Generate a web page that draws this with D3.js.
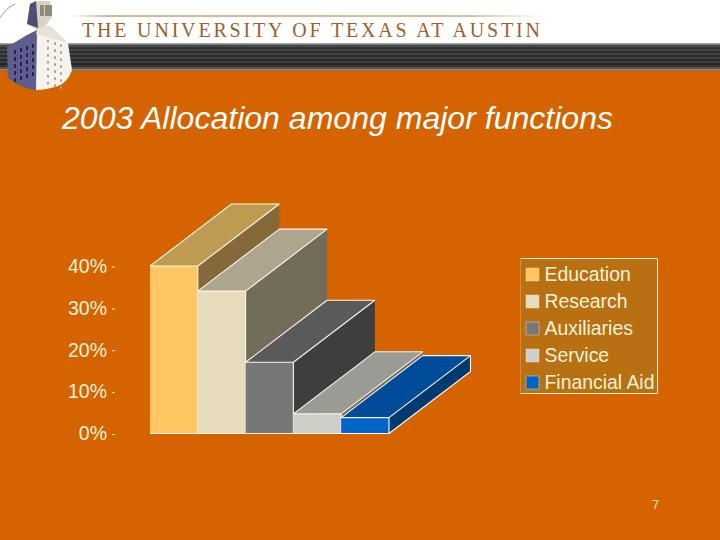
<!DOCTYPE html>
<html><head><meta charset="utf-8">
<script src="https://cdn.jsdelivr.net/npm/d3@7/dist/d3.min.js"></script>
<style>html,body{margin:0;padding:0;background:#d46300}svg{display:block}text{font-family:"Liberation Sans",Arial,sans-serif}</style>
</head><body><svg id="c" width="720" height="540"></svg>
<script>
const categories = ["Education","Research","Auxiliaries","Service","Financial Aid"];
const values = [40, 34, 17, 4.7, 3.8];
const frontColors = ["#ffc661","#e6dbbb","#777777","#cfcfca","#0064c8"];
const topColors = ["#bd9b50","#ada58e","#5a5a5a","#9b9b96","#004c9b"];
const sideColors = ["#85693a","#736c5a","#3e3e3e","#6a6a66","#003a70"];
const yTicks = [0,10,20,30,40];
const titleText = "2003 Allocation among major functions";
const headerText = "THE UNIVERSITY OF TEXAS AT AUSTIN";
const pageNumber = "7";

const svg = d3.select("#c");
const defs = svg.append("defs");
const lg = defs.append("linearGradient").attr("id","rule");
lg.append("stop").attr("offset","0").attr("stop-color","#fff");
lg.append("stop").attr("offset","0.08").attr("stop-color","#b5682a");
lg.append("stop").attr("offset","0.85").attr("stop-color","#c07a40");
lg.append("stop").attr("offset","1").attr("stop-color","#fff");

// page
svg.append("rect").attr("width",720).attr("height",540).attr("fill","#d46300");
svg.append("rect").attr("width",720).attr("height",43).attr("fill","#fff");
const stripes = [["#a8a8a8",43],["#777",44],["#4a4a4a",45],["#333",47],["#444",49],["#2e2e2e",51],["#444",53],["#2b2b2b",55],["#414141",57],["#2a2a2a",59],["#3e3e3e",61],["#262626",63],["#333",65],["#555",67],["#8a8a7e",69],["#a86a30",70]];
stripes.forEach((s,i)=>{const n=i+1<stripes.length?stripes[i+1][1]:71;
  svg.append("rect").attr("x",0).attr("y",s[1]).attr("width",720).attr("height",n-s[1]).attr("fill",s[0]);});
svg.append("rect").attr("x",70).attr("y",15.5).attr("width",470).attr("height",1).attr("fill","url(#rule)");
svg.append("text").attr("x",82).attr("y",37).attr("font-size",20).attr("fill","#a0602c")
  .style("font-family","'Liberation Serif',serif").attr("textLength",458).attr("lengthAdjust","spacing").text(headerText);

// tower emblem
svg.append("path").attr("d","M0,18 Q6,8 15,4").attr("fill","none").attr("stroke","#999").attr("stroke-width",1);
svg.append("path").attr("d","M36,30 L68,43 L72,70 Q68,82 58,86 Q46,90 36,90 Z").attr("fill","#f6f3ec");
svg.append("path").attr("d","M7,47 L27,35 L37,30 L36,90 Q20,88 8,78 Z").attr("fill","#5d5d8e");
svg.append("polygon").attr("points","37,30 46,25 52,27 68,43 36,34").attr("fill","#e8e2d6");
svg.append("polygon").attr("points","27,24 30,4 36,1 50,1 52,17 46,25 37,30").attr("fill","#d8d2c6");
svg.append("polygon").attr("points","27,24 30,4 36,1 38,28").attr("fill","#4e4e72");
[[40,46],[45,54]].forEach(r=>svg.append("rect").attr("x",r[0]).attr("y",5).attr("width",r[1]-r[0]-2).attr("height",11).attr("fill","#8f8a80"));
[14,20,26,32].forEach(x=>d3.range(50,80,7).forEach(y=>svg.append("rect").attr("x",x).attr("y",y-(x-14)/3).attr("width",2).attr("height",4).attr("fill","#25254f")));
[47,54,60].forEach(x=>d3.range(40,84,7).forEach(y=>svg.append("rect").attr("x",x).attr("y",y+(x-47)/3).attr("width",2).attr("height",2.5).attr("fill","#a5a59a")));

svg.append("text").attr("x",62).attr("y",129).attr("font-size",31).attr("font-style","italic").attr("fill","#fff")
  .attr("textLength",551).attr("lengthAdjust","spacingAndGlyphs").text(titleText);

// chart
const x = d3.scaleBand().domain(categories).range([150,389]).paddingInner(0).paddingOuter(0);
const y = d3.scaleLinear().domain([0,40]).range([433.5,266]);
const depthX = 81.5, depthY = -62;
const line = "#fff8e8";
const bar = svg.append("g").attr("stroke-linejoin","round");
const pts = a=>a.map(p=>p.join(",")).join(" ");
const edge = a=>"M"+a.map(p=>p.join(",")).join("L");
categories.forEach((c,i)=>{
  const x0=x(c), x1=x0+x.bandwidth(), yT=y(values[i]), yB=y(0);
  const last = i===categories.length-1;
  bar.append("polygon").attr("points",pts([[x1,yB],[x1+depthX,yB+depthY],[x1+depthX,yT+depthY],[x1,yT]])).attr("fill",sideColors[i]);
  bar.append("polygon").attr("points",pts([[x0,yT],[x0+depthX,yT+depthY],[x1+depthX,yT+depthY],[x1,yT]])).attr("fill",topColors[i]);
  bar.append("rect").attr("x",x0).attr("y",yT).attr("width",x.bandwidth()).attr("height",yB-yT).attr("fill",frontColors[i]);
  const d = edge([[x0,yT],[x0+depthX,yT+depthY],[x1+depthX,yT+depthY],[x1,yT]])
    + edge([[x0,yT],[x1,yT],[x1,yB],[x0,yB]])
    + edge([[x1,yB],[x1+depthX,yB+depthY]].concat(last?[[x1+depthX,yT+depthY]]:[]));
  bar.append("path").attr("d",d).attr("fill","none").attr("stroke",line).attr("stroke-width",1.1);
});

// axis
const axis = d3.axisLeft(y).tickValues(yTicks).tickFormat(d=>d+"%").tickSize(3).tickPadding(5);
const ag = svg.append("g").attr("transform","translate(115,0.5)").call(axis);
ag.select(".domain").remove();
ag.selectAll("line").attr("stroke","#fff3d8");
ag.selectAll("text").attr("fill","#fff3d8").attr("dy","0.3em").style("font-size","19.5px").style("font-family","'Liberation Sans',Arial,sans-serif");

// legend
svg.append("rect").attr("x",520.5).attr("y",258.5).attr("width",137).attr("height",135).attr("fill","#b87013");
svg.append("path").attr("d","M520.5,258.5H657.5V393.5H520.5").attr("fill","none").attr("stroke","#fff3d8");
svg.append("path").attr("d","M520.5,258.5V393.5").attr("fill","none").attr("stroke","#fff3d8").attr("stroke-opacity",.25);
const ly = d3.scalePoint().domain(categories).range([274,382]);
categories.forEach((c,i)=>{
  svg.append("rect").attr("x",526).attr("y",ly(c)-6).attr("width",13).attr("height",13).attr("fill",frontColors[i]).attr("stroke","#e8dcc0").attr("stroke-width",.5);
  svg.append("text").attr("x",544.5).attr("y",ly(c)+6.5).attr("font-size",19.4).attr("fill","#fff3d8").text(c);
});
svg.append("text").attr("x",652).attr("y",509).attr("font-size",13).attr("fill","#f5e0c8").text(pageNumber);
</script></body></html>
